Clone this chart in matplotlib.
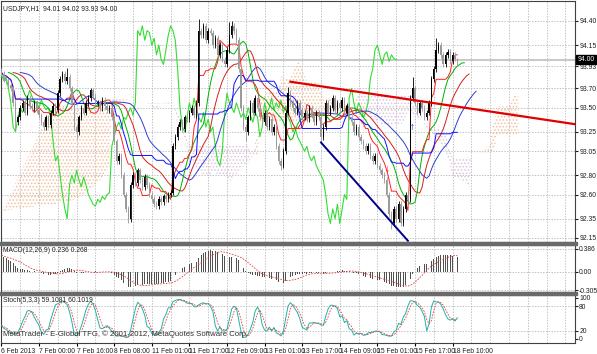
import matplotlib
matplotlib.use('Agg')
import matplotlib.pyplot as plt
from matplotlib.patches import Rectangle
import matplotlib.transforms as mtransforms
import numpy as np
import pandas as pd

plt.rcParams['font.family'] = ['Liberation Sans', 'DejaVu Sans']
plt.rcParams['hatch.linewidth'] = 0.7

# USDJPY H1 closes, one per hourly bar
closes = [93.85, 93.80, 93.78, 93.74, 93.70, 93.55, 93.35, 93.40, 93.50,
          93.55, 93.45, 93.60, 93.52, 93.50, 93.55, 93.48, 93.42,
          93.35, 93.30, 93.40, 93.32, 93.45, 93.52, 93.48,
          93.65, 93.80, 93.85, 93.78, 93.82, 93.70, 93.55, 93.30, 93.25,
          93.40, 93.50, 93.45, 93.55, 93.60, 93.68, 93.62, 93.55,
          93.55, 93.50, 93.58, 93.52, 93.48, 93.50, 93.40, 93.15, 92.95, 93.00,
          92.80, 92.60, 92.45, 92.35, 92.70, 92.80, 92.72,
          92.85, 92.75, 92.68, 92.78, 92.70, 92.60, 92.55, 92.50, 92.48, 92.55, 92.52,
          92.58, 92.55, 92.60, 92.62, 93.10,
          93.20, 93.30, 93.35, 93.28, 93.40, 93.38, 93.45, 93.50, 93.42, 93.55,
          94.30, 94.25, 94.35, 94.20, 94.30, 94.28, 94.15, 94.22,
          94.05, 94.15, 94.00, 93.95, 94.10, 94.25, 94.35, 94.30, 94.20,
          93.90, 93.50, 93.30, 93.25, 93.40, 93.55, 93.45, 93.60, 93.50, 93.40,
          93.35, 93.45, 93.30, 93.38, 93.25, 93.30, 93.10, 92.95, 92.90, 93.05,
          93.45, 93.65, 93.55, 93.50, 93.45, 93.55, 93.48, 93.40,
          93.45, 93.38, 93.50, 93.42, 93.35, 93.45, 93.40, 93.20, 93.30,
          93.55, 93.45, 93.50, 93.60, 93.48, 93.55, 93.50, 93.58, 93.45, 93.52,
          93.40, 93.35, 93.25, 93.30, 93.20, 93.15, 93.10, 93.05, 93.10, 93.00, 92.95, 93.00,
          92.90, 92.85, 92.80, 92.75, 92.60, 92.40, 92.30, 92.45, 92.35,
          92.50, 92.30, 92.45, 92.60, 92.55, 93.60,
          93.70, 93.55, 93.45, 93.55, 93.50, 93.40, 93.45, 93.55,
          93.80, 93.90, 94.10, 94.15, 94.05, 93.95, 94.05,
          94.08, 93.98, 94.05, 94.01, 94.00]
first_open = 93.88
spike_high = {28: 93.91, 84: 94.42, 97: 94.39, 98: 94.40, 122: 93.72,
              175: 93.82, 185: 94.22, 194: 94.02}
spike_low = {6: 93.27, 32: 93.18, 54: 92.30, 66: 92.45, 104: 93.15, 119: 92.85,
             136: 93.13, 166: 92.24, 170: 92.27, 194: 93.93}

# cloud edges on the left side, which come from bars before the visible window
early_span_a = [92.42, 92.47, 92.52, 92.57, 92.62, 92.67, 92.72, 92.77, 92.82, 92.87,
                92.92, 92.97, 93.02, 93.07, 93.12, 93.17, 93.22, 93.27, 93.32, 93.37,
                93.42, 93.47, 93.50, 93.50, 93.51, 93.51, 93.52, 93.52, 93.52, 93.51,
                93.51, 93.50, 93.50, 93.50, 93.49, 93.49, 93.50, 93.50, 93.50, 93.51,
                93.51, 93.51, 93.50, 93.50, 93.50, 93.50, 93.50]
early_span_b = [92.42, 92.43, 92.43, 92.44, 92.44, 92.45, 92.45, 92.45, 92.46, 92.46,
                92.46, 92.47, 92.47, 92.47, 92.48, 92.48, 92.48, 92.48, 92.49, 92.49,
                92.49, 92.50, 92.50, 92.50, 92.51, 92.51, 92.52, 92.52, 92.53, 92.53,
                92.54, 92.55, 92.56, 92.57, 92.58, 92.60, 92.62, 92.64, 92.66, 92.68,
                92.70, 92.72, 92.75, 92.78, 92.81, 92.84, 92.88]

price_ticks = [94.40, 94.15, 93.93, 93.70, 93.50, 93.25, 93.05, 92.80, 92.60, 92.35, 92.15]
bid = 94.00
time_labels = ["6 Feb 2013", "7 Feb 00:00", "7 Feb 16:00", "8 Feb 08:00", "11 Feb 01:00",
               "11 Feb 17:00", "12 Feb 09:00", "13 Feb 01:00", "13 Feb 17:00",
               "14 Feb 09:00", "15 Feb 01:00", "15 Feb 17:00", "18 Feb 10:00"]

# hand drawn objects (bar index, price)
red_trend_bars = [123, 244]
red_trend_prices = [93.77, 93.33]
blue_trend_bars = [136, 173]
blue_trend_prices = [93.14, 92.12]
up_arrow = (175, 93.30)
down_arrow = (164, 92.86)

macd_start = 0.28

n = len(closes)
c = pd.Series(closes)
o = c.shift(1).fillna(first_open)
h = np.maximum(o, c) + 0.03
l = np.minimum(o, c) - 0.03
for k, v in spike_high.items():
    h[k] = v
for k, v in spike_low.items():
    l[k] = v
idx = np.arange(n)

# indicators
tenkan = (h.rolling(9, min_periods=1).max() + l.rolling(9, min_periods=1).min()) / 2
kijun = (h.rolling(26, min_periods=1).max() + l.rolling(26, min_periods=1).min()) / 2
span_a = (tenkan + kijun) / 2
span_b = (h.rolling(52, min_periods=1).max() + l.rolling(52, min_periods=1).min()) / 2
med = (h + l) / 2
jaw = med.ewm(alpha=1 / 13, adjust=False).mean()
teeth = med.ewm(alpha=1 / 8, adjust=False).mean()
lips = med.ewm(alpha=1 / 5, adjust=False).mean()

# cloud on plotted bar positions
ne = len(early_span_a)
cloud_x = np.arange(n + 26)
cloud_a = np.concatenate([[np.nan] * 26, span_a.values])
cloud_b = np.concatenate([[np.nan] * 26, span_b.values])
cloud_a[:ne] = early_span_a
cloud_b[:ne] = early_span_b

ema_f = np.zeros(n)
ema_s = np.zeros(n)
ema_f[0] = closes[0]
ema_s[0] = closes[0] - macd_start
for i in range(1, n):
    ema_f[i] = ema_f[i - 1] + 2 / 13 * (closes[i] - ema_f[i - 1])
    ema_s[i] = ema_s[i - 1] + 2 / 27 * (closes[i] - ema_s[i - 1])
macd = pd.Series(ema_f - ema_s)
macd_sig = macd.rolling(9, min_periods=1).mean()

ll = l.rolling(5, min_periods=1).min()
hh = h.rolling(5, min_periods=1).max()
stk = 100 * (c - ll).rolling(3, min_periods=1).sum() / (hh - ll).rolling(3, min_periods=1).sum()
sts = stk.rolling(3, min_periods=1).mean()

# figure layout in pixels
W, H = 597, 354
fig = plt.figure(figsize=(W / 100, H / 100), dpi=100)
FS = 4.9


def panel(top, bottom):
    a = fig.add_axes([1 / W, 1 - bottom / H, 574 / W, (bottom - top) / H])
    for s in a.spines.values():
        s.set_color('#404040')
        s.set_linewidth(0.8)
    a.set_xlim(-0.17, 244.1)
    a.yaxis.tick_right()
    a.tick_params(axis='y', labelsize=FS, length=2, pad=1, colors='#202020')
    a.tick_params(axis='x', length=0, labelbottom=False)
    for v in range(0, 245, 8):
        a.axvline(v, color='#a8a8a8', lw=0.5, ls=(0, (2, 2)), zorder=0)
    return a


ax = panel(1, 242)
axm = panel(245, 292)
axs = panel(295, 343)

for y0 in (242, 292):
    fig.patches.append(Rectangle((0, 1 - (y0 + 3) / H), 577 / W, 3 / H,
                                 transform=fig.transFigure, color='#6a6a6a', zorder=5))

# main panel
ax.set_ylim(94.6178 - 242 / 96.4, 94.6178 - 1 / 96.4)
ax.set_yticks(price_ticks)
ax.set_yticklabels(['%.2f' % p for p in price_ticks])
for p in price_ticks:
    ax.axhline(p, color='#a8a8a8', lw=0.5, ls=(0, (2, 2)), zorder=0)
ax.axhline(bid, color='#c4c4c4', lw=1.3, zorder=1)

ok = ~np.isnan(cloud_a)
ax.fill_between(cloud_x, cloud_a, cloud_b, where=ok & (cloud_a >= cloud_b), facecolor='none',
                edgecolor='#f2bf9c', hatch='.....', lw=0, zorder=1, interpolate=True)
ax.fill_between(cloud_x, cloud_a, cloud_b, where=ok & (cloud_a < cloud_b), facecolor='none',
                edgecolor='#dcc4dc', hatch='.....', lw=0, zorder=1, interpolate=True)

ax.plot(idx - 26, c, color='#33dd33', lw=0.8, zorder=3)
ax.plot(idx + 8, jaw, color='#2f3fcf', lw=0.7, zorder=3)
ax.plot(idx + 5, teeth, color='#d02020', lw=0.7, zorder=3)
ax.plot(idx + 3, lips, color='#00b000', lw=0.7, zorder=3)
ax.plot(idx, tenkan, color='#ff2020', lw=0.7, zorder=3)
ax.plot(idx, kijun, color='#1010ff', lw=0.7, zorder=3)

up = c >= o
col = np.where(up, '#000000', '#9a9a9a')
ax.vlines(idx, l, h, colors=col, lw=0.6, zorder=4)
ax.bar(idx, np.maximum(np.abs(c - o), 0.006), bottom=np.minimum(o, c), width=0.6,
       color=col, lw=0, zorder=4)

ax.plot(red_trend_bars, red_trend_prices, color='#e00000', lw=1.6, zorder=6)
ax.plot(blue_trend_bars, blue_trend_prices, color='#00008b', lw=1.4, zorder=6)
ax.text(up_arrow[0], up_arrow[1], '\u2191', color='#1010ff', fontsize=7,
        fontweight='bold', ha='center', va='center', zorder=7)
ax.text(down_arrow[0], down_arrow[1], '\u2193', color='#ff0000', fontsize=7,
        fontweight='bold', ha='center', va='center', zorder=7)

ax.text(0.004, 0.985, 'USDJPY,H1  94.01 94.02 93.93 94.00', transform=ax.transAxes,
        fontsize=FS, va='top', ha='left', color='#202020')
trans = mtransforms.blended_transform_factory(ax.transAxes, ax.transData)
ax.text(1.004, bid, '%.2f' % bid, transform=trans, fontsize=FS, color='white',
        va='center', ha='left', zorder=10,
        bbox=dict(boxstyle='square,pad=0.2', fc='black', ec='black'))

# MACD panel
axm.set_ylim(-0.3356, 0.453)
macd_ticks = [0.386, 0.0, -0.305]
axm.set_yticks(macd_ticks)
axm.set_yticklabels(['0.386', '0.00', '-0.305'])
for p in macd_ticks:
    axm.axhline(p, color='#a8a8a8', lw=0.5, ls=(0, (2, 2)), zorder=0)
axm.bar(idx, macd, width=0.35, color='#505050', lw=0, zorder=2)
axm.plot(idx, macd_sig, color='#e04040', lw=0.6, ls=(0, (2, 1.5)), zorder=3)
axm.text(0.004, 0.96, 'MACD(12,26,9) 0.236 0.268', transform=axm.transAxes,
         fontsize=FS, va='top', ha='left', color='#202020')

# Stochastic panel
axs.set_ylim(-9.76, 107.3)
axs.set_yticks([100, 80, 20, 0])
axs.set_yticklabels(['100', '80', '20', '0'])
for p in (80, 20):
    axs.axhline(p, color='#a8a8a8', lw=0.5, ls=(0, (2, 2)), zorder=0)
axs.plot(idx, stk, color='#20b2aa', lw=0.7, zorder=3)
axs.plot(idx, sts, color='#e04040', lw=0.6, ls=(0, (2, 1.5)), zorder=3)
axs.text(0.004, 0.96, 'Stoch(5,3,3) 59.1081 60.1019', transform=axs.transAxes,
         fontsize=FS, va='top', ha='left', color='#202020')
axs.text(0.004, 0.18, 'MetaTrader - E-Global TFG, \u00a9 2001-2012, MetaQuotes Software Corp.',
         transform=axs.transAxes, fontsize=5.6, va='center', ha='left', color='#303030', zorder=8)
axs.set_xticks(np.arange(len(time_labels)) * 16)
axs.set_xticklabels(time_labels, fontsize=FS, ha='left', color='#202020')
axs.tick_params(axis='x', length=2, pad=1.5, labelbottom=True)

fig.savefig('out.png', dpi=100, facecolor='white')
